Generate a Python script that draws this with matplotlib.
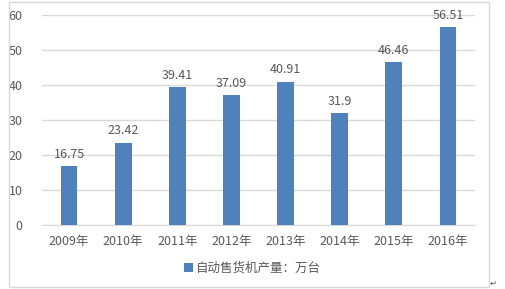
import matplotlib
matplotlib.use("Agg")
import matplotlib.pyplot as plt
from matplotlib.patches import Rectangle

plt.rcParams['font.family'] = ['Noto Sans CJK SC', 'DejaVu Sans']

years = ['2009年', '2010年', '2011年', '2012年', '2013年', '2014年', '2015年', '2016年']
output = [16.75, 23.42, 39.41, 37.09, 40.91, 31.9, 46.46, 56.51]
series_name = '自动售货机产量：万台'

bar_color = '#4F81BD'
text_color = '#595959'
grid_color = '#D9D9D9'

fig = plt.figure(figsize=(5.05, 2.89), dpi=100)
ax = fig.add_axes([0.0832, 0.2215, 0.8574, 0.7265])

x = list(range(len(years)))
bars = ax.bar(x, output, width=0.31, color=bar_color, label=series_name, zorder=3)
for xi, v in zip(x, output):
    ax.annotate(f'{v:g}', (xi, v), xytext=(0, 4), textcoords='offset points',
                ha='center', va='bottom', fontsize=9, color=text_color)

ax.set_xlim(-0.5, len(years) - 0.5)
ax.set_ylim(0, 60)
ax.set_yticks(range(0, 61, 10))
ax.set_xticks(x)
ax.set_xticklabels(years)
ax.tick_params(axis='both', length=0, labelsize=9, colors=text_color)
ax.tick_params(axis='y', pad=14)
ax.tick_params(axis='x', pad=7)
ax.grid(axis='y', color=grid_color, linewidth=1, zorder=0)
for s in ['top', 'right', 'left']:
    ax.spines[s].set_visible(False)
ax.spines['bottom'].set_color(grid_color)

fig.legend(handles=[bars], labels=[series_name], loc='center',
           bbox_to_anchor=(0.5, 1 - 268 / 289), frameon=False, fontsize=9,
           labelcolor=text_color, handlelength=0.7, handleheight=0.7,
           handletextpad=0.2)

# chart frame
fig.patches.append(Rectangle((9 / 505, 2 / 289), 480 / 505, 285 / 289,
                             transform=fig.transFigure, fill=False,
                             edgecolor=grid_color, linewidth=1))
fig.text(490 / 505, 1 / 289, '↵', fontsize=6, color='#555555',
         ha='left', va='bottom')

fig.savefig('out.png', dpi=100)
